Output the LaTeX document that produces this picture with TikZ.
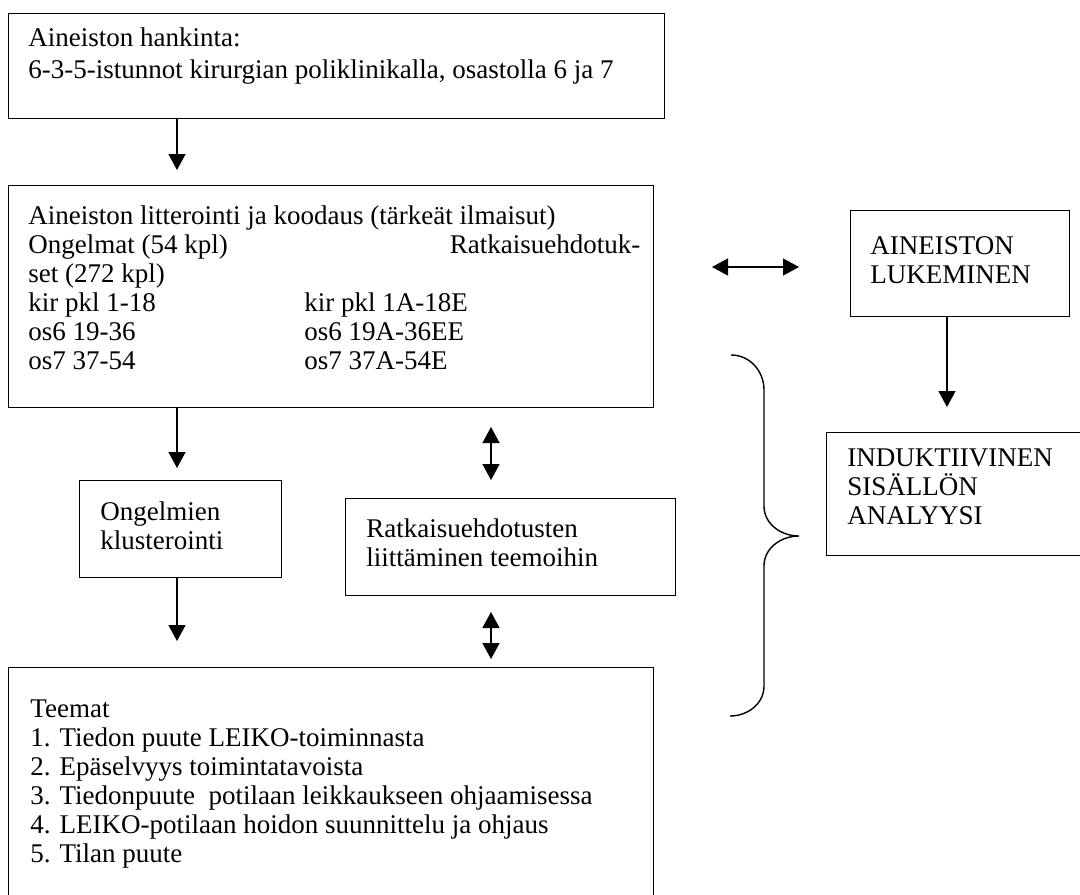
\documentclass[tikz,border=0pt]{standalone}
\usepackage{fontspec}
\setmainfont{Liberation Serif}
\usetikzlibrary{arrows.meta}

\tikzset{
  box/.style={draw,line width=0.7pt,anchor=north west,inner sep=0pt},
  txt/.style={anchor=north west,inner sep=0pt,align=left,font=\fontsize{13.5}{14.5}\selectfont},
  wide txt/.style={txt,font=\fontsize{13.5}{16}\selectfont},
  arr/.style={line width=0.7pt,-{Triangle[length=8pt,width=8.5pt]}},
  darr/.style={line width=0.7pt,{Triangle[length=8pt,width=8.5pt]}-{Triangle[length=8pt,width=8.5pt]}}
}

\begin{document}
\begin{tikzpicture}[x=0.5pt,y=-0.5pt]
\useasboundingbox (0,0) rectangle (1080,894);
\clip (0,0) rectangle (1080,894);

\node[box,minimum width=328pt,minimum height=52.5pt] (hank) at (8,13) {};
\node[wide txt] (hankT) at (28,27) {Aineiston hankinta:\\6-3-5-istunnot kirurgian poliklinikalla, osastolla 6 ja 7};

\node[box,minimum width=322.5pt,minimum height=111pt] (lit) at (8,185) {};
\node[txt] (litT) at (28,205) {Aineiston litterointi ja koodaus (tärkeät ilmaisut)\\
\makebox[306pt][l]{Ongelmat (54 kpl)\hfill Ratkaisuehdotuk-}\\
set (272 kpl)\\
\makebox[138pt][l]{kir pkl 1-18}kir pkl 1A-18E\\
\makebox[138pt][l]{os6 19-36}os6 19A-36EE\\
\makebox[138pt][l]{os7 37-54}os7 37A-54E};

\node[box,minimum width=101pt,minimum height=48.5pt] (klus) at (79,480) {};
\node[txt] (klusT) at (100,501) {Ongelmien\\klusterointi};

\node[box,minimum width=165pt,minimum height=48.5pt] (liit) at (345,498) {};
\node[txt] (liitT) at (366,518) {Ratkaisuehdotusten\\liittäminen teemoihin};

\node[box,minimum width=322.5pt,minimum height=130pt] (teem) at (8,667) {};
\node[txt] (teemT) at (30,699) {Teemat\\
1. Tiedon puute LEIKO-toiminnasta\\
2. Epäselvyys toimintatavoista\\
3. Tiedonpuute\ \ potilaan leikkaukseen ohjaamisessa\\
4. LEIKO-potilaan hoidon suunnittelu ja ohjaus\\
5. Tilan puute};

\node[box,minimum width=109.5pt,minimum height=53pt] (luk) at (850,210) {};
\node[txt] (lukT) at (870,236) {AINEISTON\\LUKEMINEN};

\node[box,minimum width=140pt,minimum height=61.5pt] (ind) at (826,432) {};
\node[txt] (indT) at (847,448) {INDUKTIIVINEN\\SISÄLLÖN\\ANALYYSI};

\coordinate (a1) at (177,170);
\coordinate (a2) at (177,468);
\coordinate (a3) at (177,641);
\coordinate (a4) at (947,407);
\draw[arr] (hank.south -| a1) -- (a1);
\draw[arr] (lit.south -| a2) -- (a2);
\draw[arr] (klus.south -| a3) -- (a3);
\draw[arr] (luk.south -| a4) -- (a4);

\coordinate (d1a) at (712,267);
\coordinate (d1b) at (799,267);
\coordinate (d2a) at (491,427);
\coordinate (d2b) at (491,480);
\coordinate (d3a) at (491,612);
\coordinate (d3b) at (491,659);
\draw[darr] (d1a) -- (d1b);
\draw[darr] (d2a) -- (d2b);
\draw[darr] (d3a) -- (d3b);

\draw[line width=0.7pt] (731,355) to[out=0,in=90] (764,390) -- (764,506)
  to[out=-90,in=180] (799,536) to[out=180,in=90] (764,566) -- (764,686)
  to[out=-90,in=0] (730,716);
\end{tikzpicture}
\end{document}
